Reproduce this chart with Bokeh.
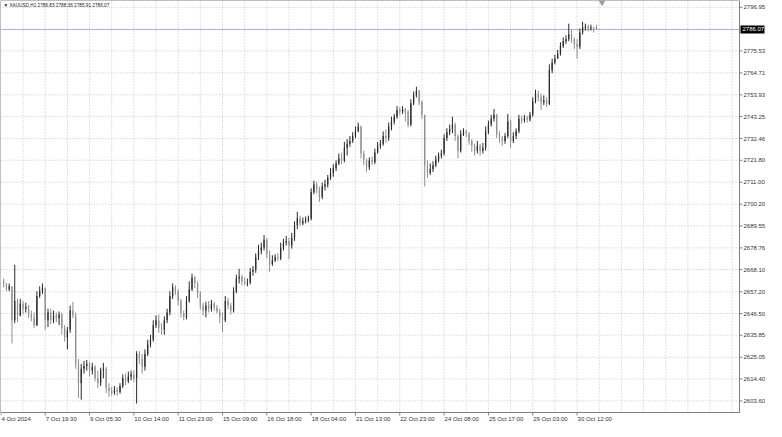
from bokeh.plotting import figure
from bokeh.models import Range1d, ColumnDataSource
from bokeh.core.properties import value
from bokeh.embed import file_html
from bokeh.resources import INLINE

symbol = "XAUUSD,H1"
first_open = 2662.3
closes = [
    2661.3, 2658.5, 2659.9, 2643.2, 2652.7, 2645.6, 2651.3, 2648.9, 2649.9, 2646.1,
    2644.6, 2640.8, 2655.1, 2657.5, 2658.9, 2643.2, 2647.0, 2643.2, 2645.6, 2644.2,
    2646.1, 2639.4, 2634.7, 2638.5, 2648.0, 2645.6, 2621.8, 2612.3, 2619.4, 2620.8,
    2621.8, 2618.5, 2620.4, 2614.7, 2612.3, 2618.5, 2619.4, 2609.9, 2608.5, 2607.5,
    2608.9, 2608.0, 2610.9, 2614.7, 2613.2, 2615.6, 2616.6, 2614.7, 2626.6, 2624.2,
    2620.4, 2626.6, 2631.3, 2633.7, 2640.8, 2643.2, 2639.4, 2638.5, 2643.2, 2647.0,
    2655.1, 2659.4, 2657.5, 2652.7, 2646.6, 2644.6, 2652.7, 2658.5, 2664.2, 2661.3,
    2656.5, 2650.4, 2648.0, 2650.4, 2648.9, 2651.3, 2649.4, 2647.5, 2645.1, 2643.2,
    2652.7, 2650.4, 2648.0, 2657.5, 2663.7, 2664.6, 2662.3, 2661.3, 2661.8, 2667.0,
    2668.0, 2674.2, 2677.5, 2678.9, 2682.7, 2675.6, 2670.8, 2672.7, 2674.2, 2673.7,
    2678.9, 2681.3, 2682.2, 2679.9, 2683.7, 2689.9, 2693.2, 2690.8, 2691.8, 2692.7,
    2693.2, 2706.1, 2709.9, 2707.5, 2703.7, 2708.9, 2709.9, 2713.2, 2715.6, 2717.9,
    2720.3, 2722.7, 2721.8, 2727.9, 2729.9, 2731.3, 2733.7, 2736.0, 2738.4, 2725.1,
    2721.8, 2718.4, 2721.8, 2720.8, 2725.6, 2728.9, 2729.9, 2733.7, 2732.7, 2738.4,
    2740.8, 2743.2, 2746.5, 2745.6, 2747.0, 2745.6, 2739.4, 2749.8, 2753.7, 2756.0,
    2750.3, 2744.1, 2719.4, 2715.6, 2717.5, 2719.4, 2722.2, 2724.1, 2725.1, 2732.7,
    2735.6, 2737.0, 2739.4, 2733.7, 2726.5, 2734.6, 2736.0, 2735.1, 2731.3, 2728.9,
    2726.5, 2728.9, 2726.5, 2727.9, 2736.0, 2739.4, 2742.2, 2744.1, 2734.6, 2732.2,
    2731.3, 2733.7, 2740.8, 2731.3, 2733.7, 2736.0, 2742.2, 2741.3, 2742.7, 2741.8,
    2744.1, 2750.8, 2754.6, 2752.7, 2750.3, 2751.3, 2749.4, 2766.0, 2769.8, 2771.7,
    2774.1, 2777.9, 2780.3, 2781.3, 2783.6, 2781.3, 2778.9, 2777.5, 2784.6, 2787.0,
    2787.4, 2786.5, 2787.0, 2786.83, 2786.07,
]
highs = [
    2663.7, 2661.3, 2661.3, 2659.4, 2670.4, 2653.7, 2653.7, 2652.7, 2651.8, 2650.8,
    2648.0, 2647.0, 2657.5, 2659.9, 2661.3, 2659.4, 2648.9, 2648.9, 2648.0, 2647.0,
    2647.5, 2647.0, 2640.8, 2639.9, 2650.4, 2652.3, 2647.0, 2624.2, 2621.8, 2623.2,
    2623.7, 2622.7, 2622.3, 2621.3, 2618.5, 2619.9, 2622.3, 2620.4, 2612.3, 2610.4,
    2610.9, 2610.4, 2612.3, 2616.6, 2617.0, 2618.0, 2618.5, 2618.5, 2628.0, 2628.0,
    2626.6, 2628.9, 2633.7, 2636.1, 2643.2, 2645.6, 2646.1, 2641.8, 2645.1, 2648.9,
    2657.5, 2661.3, 2660.4, 2658.5, 2653.7, 2648.0, 2655.1, 2662.3, 2666.1, 2665.1,
    2662.3, 2657.5, 2651.8, 2652.3, 2652.7, 2653.2, 2652.3, 2650.8, 2648.9, 2647.0,
    2655.1, 2654.2, 2651.8, 2659.4, 2665.6, 2668.5, 2665.6, 2664.2, 2663.7, 2668.9,
    2669.9, 2676.1, 2680.3, 2681.3, 2685.1, 2683.7, 2677.5, 2675.1, 2675.6, 2676.1,
    2681.3, 2683.2, 2684.6, 2683.7, 2686.1, 2691.8, 2696.5, 2694.6, 2693.7, 2694.2,
    2694.6, 2708.0, 2711.8, 2711.3, 2708.9, 2710.8, 2712.2, 2714.6, 2717.9, 2719.9,
    2721.8, 2725.1, 2725.6, 2730.8, 2732.2, 2733.7, 2735.6, 2738.4, 2740.3, 2738.9,
    2726.5, 2722.7, 2723.2, 2723.7, 2727.5, 2730.8, 2731.8, 2736.0, 2737.0, 2740.3,
    2743.2, 2744.6, 2748.4, 2747.9, 2748.4, 2747.5, 2746.5, 2751.7, 2755.6, 2757.9,
    2756.5, 2751.3, 2744.1, 2721.8, 2720.3, 2721.3, 2724.1, 2725.6, 2727.0, 2734.6,
    2737.5, 2739.4, 2743.2, 2740.3, 2734.6, 2736.5, 2737.5, 2737.0, 2735.6, 2732.2,
    2729.9, 2731.3, 2729.9, 2730.3, 2738.4, 2741.3, 2744.1, 2747.0, 2744.6, 2736.0,
    2733.7, 2735.1, 2744.6, 2741.8, 2735.6, 2737.5, 2744.1, 2743.7, 2744.1, 2743.7,
    2745.6, 2752.7, 2756.5, 2756.0, 2754.6, 2753.7, 2752.7, 2768.9, 2771.7, 2773.6,
    2776.0, 2779.8, 2782.2, 2783.2, 2788.9, 2786.0, 2782.2, 2781.3, 2786.5, 2789.8,
    2788.9, 2788.4, 2788.4, 2787.4, 2788.36,
]
lows = [
    2659.4, 2657.5, 2657.5, 2631.8, 2641.8, 2642.3, 2645.1, 2646.1, 2647.0, 2644.2,
    2642.7, 2639.4, 2640.4, 2654.2, 2656.1, 2638.5, 2639.9, 2641.3, 2641.8, 2642.3,
    2640.8, 2636.1, 2632.7, 2628.9, 2637.0, 2644.2, 2619.4, 2605.1, 2604.2, 2617.0,
    2618.5, 2615.6, 2616.6, 2613.2, 2609.9, 2610.9, 2614.7, 2607.5, 2605.6, 2606.1,
    2606.6, 2606.1, 2607.1, 2609.9, 2611.3, 2612.3, 2613.7, 2612.8, 2602.3, 2621.8,
    2617.0, 2618.5, 2625.6, 2629.9, 2632.7, 2639.4, 2637.0, 2636.1, 2636.1, 2641.8,
    2645.6, 2653.7, 2655.6, 2650.4, 2644.6, 2643.2, 2643.7, 2651.8, 2657.5, 2658.9,
    2654.2, 2648.5, 2645.6, 2644.6, 2647.0, 2647.5, 2648.0, 2646.6, 2641.8, 2637.5,
    2642.3, 2648.5, 2646.1, 2647.0, 2656.5, 2661.3, 2660.4, 2660.4, 2659.9, 2660.8,
    2665.1, 2666.5, 2672.7, 2675.6, 2677.5, 2673.7, 2667.0, 2669.9, 2671.8, 2672.3,
    2672.7, 2677.5, 2679.9, 2673.2, 2678.4, 2682.2, 2688.0, 2689.4, 2689.9, 2690.8,
    2691.3, 2692.3, 2705.1, 2705.6, 2701.3, 2702.7, 2707.0, 2708.4, 2712.2, 2713.7,
    2716.5, 2719.4, 2719.9, 2720.8, 2724.1, 2728.4, 2730.3, 2732.7, 2735.6, 2722.7,
    2719.4, 2716.0, 2717.0, 2719.4, 2719.9, 2725.1, 2727.5, 2728.9, 2730.3, 2731.3,
    2736.5, 2739.4, 2742.2, 2744.1, 2744.6, 2740.8, 2737.9, 2738.4, 2748.9, 2752.7,
    2748.9, 2742.2, 2708.9, 2713.2, 2714.6, 2716.0, 2718.4, 2720.8, 2722.7, 2724.1,
    2731.3, 2734.1, 2735.1, 2731.3, 2722.7, 2725.6, 2733.7, 2733.2, 2729.4, 2726.0,
    2724.1, 2725.1, 2724.1, 2725.1, 2726.5, 2734.6, 2738.4, 2740.8, 2732.7, 2730.3,
    2728.9, 2729.9, 2732.7, 2727.9, 2730.3, 2732.2, 2735.1, 2739.8, 2740.3, 2740.3,
    2740.8, 2743.2, 2749.8, 2750.8, 2746.5, 2748.9, 2747.9, 2748.9, 2764.6, 2768.9,
    2771.7, 2773.2, 2777.0, 2778.9, 2780.3, 2779.4, 2776.5, 2771.7, 2776.5, 2783.6,
    2785.5, 2785.1, 2785.5, 2784.6, 2785.91,
]
price_ticks = [2796.95, 2775.53, 2764.71, 2753.93, 2743.25, 2732.46, 2721.80, 2711.00,
               2700.20, 2689.55, 2678.76, 2668.10, 2657.20, 2646.50, 2635.85, 2625.05,
               2614.40, 2603.60]
date_labels = ["4 Oct 2024", "7 Oct 19:30", "9 Oct 05:30", "10 Oct 14:00", "11 Oct 23:00",
               "15 Oct 09:00", "16 Oct 18:00", "18 Oct 04:00", "21 Oct 13:00", "22 Oct 23:00",
               "24 Oct 08:00", "25 Oct 17:00", "29 Oct 03:00", "30 Oct 12:00"]

n = len(closes)
opens = [first_open] + closes[:-1]
hi = [max(h, o, c) for h, o, c in zip(highs, opens, closes)]
lo = [min(l, o, c) for l, o, c in zip(lows, opens, closes)]
colors = ["#2a2a2a" if c >= o else "#8f8f8f" for o, c in zip(opens, closes)]
src = ColumnDataSource(dict(x=list(range(n)), h=hi, l=lo,
                            top=[max(o, c) for o, c in zip(opens, closes)],
                            bot=[min(o, c) for o, c in zip(opens, closes)],
                            col=colors))

label_idx = [-1 + 16 * k for k in range(len(date_labels))]
grid_idx = [-1 + 8 * k for k in range(1, 34)]

# ---- layout (pixels) ----
FW, FH = 766, 421          # figure
CW, CH = 739, 412          # chart area inside the figure (top-left aligned)
x_left, x_right = -1.143, 265.64
y_top, y_bottom = 2800.28, 2597.9
dx = (x_right - x_left) / CW
dy = (y_top - y_bottom) / CH

FONT = value("Liberation Sans")
GRID = "#bcc3cf"
FRAME = "#808080"
TXT = "#333333"

p = figure(width=FW, height=FH,
           x_range=Range1d(x_left, x_left + dx * FW),
           y_range=Range1d(y_top - dy * FH, y_top),
           x_axis_location=None, y_axis_location=None,
           output_backend="svg", toolbar_location=None,
           min_border_left=0, min_border_right=0, min_border_top=0, min_border_bottom=0,
           background_fill_color="white", border_fill_color="white")
p.outline_line_color = None
p.xgrid.visible = False
p.ygrid.visible = False

# grid
m = len(price_ticks)
p.segment(x0=grid_idx, x1=grid_idx, y0=[y_bottom] * len(grid_idx), y1=[y_top] * len(grid_idx),
          line_color=GRID, line_width=1, line_dash="1 2")
p.segment(x0=[x_left] * m, x1=[x_right] * m, y0=price_ticks, y1=price_ticks,
          line_color=GRID, line_width=1, line_dash="1 2")

# current price line
p.segment(x0=[x_left], x1=[x_right], y0=[closes[-1]], y1=[closes[-1]],
          line_color="#a3b3cc", line_width=1)

# candles
p.segment(x0="x", y0="l", x1="x", y1="h", source=src, line_color="col", line_width=1)
p.vbar(x="x", width=0.45, top="top", bottom="bot", source=src, fill_color="col",
       line_color=None)

# chart frame
p.quad(left=[x_left], right=[x_right], bottom=[y_bottom], top=[y_top],
       fill_color=None, line_color=FRAME, line_width=1)

# right price scale
p.segment(x0=[x_right] * m, x1=[x_right + 3 * dx] * m, y0=price_ticks, y1=price_ticks,
          line_color=FRAME, line_width=1)
p.text(x=[x_right + 4 * dx] * m, y=price_ticks, text=[f"{v:.2f}" for v in price_ticks],
       text_font=FONT, text_font_size=value("6px"), text_color=TXT,
       text_align="left", text_baseline="middle")

# current price tag
p.quad(left=[x_right + 1 * dx], right=[x_right + 25 * dx],
       bottom=[closes[-1] - 4 * dy], top=[closes[-1] + 4 * dy],
       fill_color="black", line_color=None)
p.text(x=[x_right + 3 * dx], y=[closes[-1]], text=[f"{closes[-1]:.2f}"],
       text_font=FONT, text_font_size=value("6px"), text_color="white",
       text_align="left", text_baseline="middle")

# time scale
k = len(label_idx)
p.segment(x0=label_idx, x1=label_idx, y0=[y_bottom] * k, y1=[y_bottom - 3 * dy] * k,
          line_color=FRAME, line_width=1)
p.text(x=[i + 0.5 * dx for i in label_idx], y=[y_bottom - 6 * dy] * k, text=date_labels,
       text_font=FONT, text_font_size=value("6px"), text_color=TXT,
       text_align="left", text_baseline="middle")

# header and chart-shift marker
header = f"\u25BC {symbol} {opens[-1]:.2f} {hi[-1]:.2f} {lo[-1]:.2f} {closes[-1]:.2f}"
p.text(x=[x_left + 3 * dx], y=[y_top - 5 * dy], text=[header],
       text_font=FONT, text_font_size=value("4.7px"), text_color="#222222",
       text_align="left", text_baseline="middle")
p.scatter(x=[n + 1], y=[y_top - 1.5 * dy], marker="inverted_triangle", size=6,
          fill_color="#a0a0a0", line_color="#a0a0a0")

open("out.html", "w").write(file_html(p, INLINE))
